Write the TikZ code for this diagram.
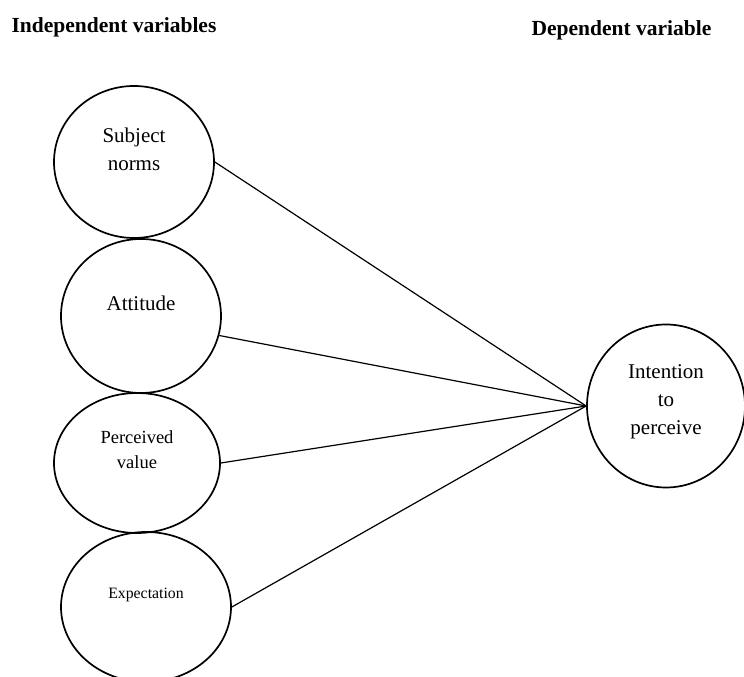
\documentclass[tikz,border=0pt]{standalone}
\usepackage{fontspec}
\setmainfont{Liberation Serif}
\usetikzlibrary{shapes.geometric}

\tikzset{
  var/.style={draw, ellipse, line width=1.7pt, inner sep=0pt},
  lbl/.style={align=center, font=\fontsize{21}{28}\selectfont},
  link/.style={line width=1.2pt},
}

\begin{document}
\begin{tikzpicture}[x=1pt,y=1pt]
          \useasboundingbox (0,0) rectangle (744,677);

          % headings
          \node (indep) [anchor=base west, font=\fontsize{21.5}{26}\selectfont\bfseries] at (8,644) {Independent variables};
          \node (dep) [anchor=base west, font=\fontsize{21.5}{26}\selectfont\bfseries] at (528,641) {Dependent variable};

          % Subject norms
          \node (sn) [var, minimum width=160pt, minimum height=152pt] at (134,515) {};
          \node (snt) [lbl] at (134,528) {Subject\\norms};

          % Attitude
          \node (att) [var, minimum width=160pt, minimum height=154pt] at (141,361) {};
          \node (attt) [lbl] at (141,374) {Attitude};

          % Perceived value
          \node (pv) [var, minimum width=166pt, minimum height=140pt] at (137,214) {};
          \node (pvt) [lbl, font=\fontsize{18.5}{25}\selectfont] at (137,227) {Perceived\\value};

          % Expectation
          \node (ex) [var, minimum width=170pt, minimum height=150pt] at (146,70) {};
          \node (ext) [lbl, font=\fontsize{15.8}{21}\selectfont] at (146,82) {Expectation};

          % Intention to perceive
          \node (ip) [var, minimum width=158pt, minimum height=163pt] at (666,271) {};
          \node (ipt) [lbl] at (666,275) {Intention\\to\\perceive};

          \draw[link] (sn.east) -- (ip.west);
          \draw[link] (att.-14) -- (ip.west);
          \draw[link] (pv.east) -- (ip.west);
          \draw[link] (ex.east) -- (ip.west);

\end{tikzpicture}
\end{document}
